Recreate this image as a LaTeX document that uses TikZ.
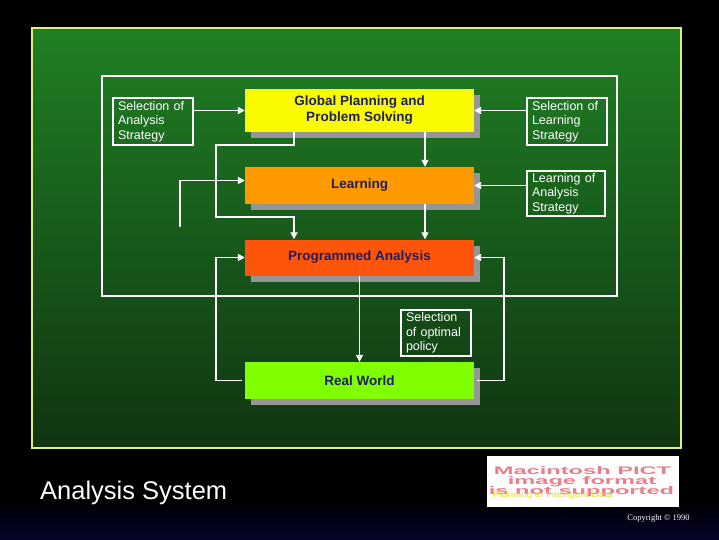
\documentclass[tikz,border=0pt]{standalone}
\usepackage{fontspec}
\setmainfont{Liberation Sans}
\newfontfamily\copyfont{Liberation Serif}
\usetikzlibrary{arrows.meta,positioning,shadows}

\definecolor{panelgreen}{RGB}{32,128,36}
\definecolor{panelmid}{RGB}{26,92,28}
\definecolor{paneldark}{RGB}{16,52,18}
\definecolor{panelrim}{RGB}{220,240,130}
\definecolor{boxtext}{RGB}{32,32,96}
\definecolor{shadowgray}{RGB}{150,150,150}
\definecolor{planyellow}{RGB}{250,250,0}
\definecolor{learnorange}{RGB}{255,153,0}
\definecolor{progred}{RGB}{255,85,10}
\definecolor{worldgreen}{RGB}{128,255,0}
\definecolor{pictpink}{RGB}{232,128,140}
\definecolor{pictyellow}{RGB}{230,220,40}
\definecolor{navyband}{RGB}{4,4,44}

\begin{document}
\begin{tikzpicture}[x=1pt,y=-1pt,
    mainbox/.style={minimum width=229pt,inner sep=0pt,text=boxtext,align=center,
        font=\fontsize{13.5}{16}\selectfont\bfseries,
        drop shadow={shadow xshift=6pt,shadow yshift=-6pt,opacity=1,fill=shadowgray}},
    sidebox/.style={draw=white,line width=1.8pt,text=white,align=left,
        inner xsep=5pt,inner ysep=0pt,font=\fontsize{12.5}{14.5}\selectfont},
    feed/.style={draw=white,line width=1.9pt,-{Triangle[length=7pt,width=7pt]}},
    thinfeed/.style={feed,line width=1.1pt},
    pictline/.style={text=pictpink,inner sep=0pt,font=\fontsize{11}{11}\selectfont\bfseries}]
    % slide background
    \fill[black] (0,0) rectangle (719,539);
    \shade[top color=black,bottom color=navyband] (0,500) rectangle (719,539);
    \shade[top color=panelgreen,middle color=panelmid,bottom color=paneldark] (32,28) rectangle (681,448);
    \draw[panelrim,line width=2.5pt] (32,28) rectangle (681,448);
    \draw[white,line width=1.9pt] (102,76) rectangle (617,296);

    % main blocks
    \node[mainbox,fill=planyellow,minimum height=43pt] (gps) at (359.5,110.5) {Global Planning and\\Problem Solving};
    \node[mainbox,fill=learnorange,minimum height=37pt] (lrn) at (359.5,185.5) {Learning};
    \node[mainbox,fill=progred,minimum height=36pt] (pa) at (359.5,257.5) {Programmed Analysis};
    \node[mainbox,fill=worldgreen,minimum height=37pt] (rw) at (359.5,380.5) {Real World};

    % side boxes
    \node[sidebox,minimum width=80pt,minimum height=47pt,text width=70pt] (sas) at (153,121.5) {Selection of\\Analysis\\Strategy};
    \node[sidebox,minimum width=80pt,minimum height=47pt,text width=70pt] (sls) at (567,121.5) {Selection of\\Learning\\Strategy};
    \node[sidebox,minimum width=78pt,minimum height=45pt,text width=68pt] (las) at (566,193.5) {Learning of\\Analysis\\Strategy};
    \node[sidebox,minimum width=70pt,minimum height=46pt,text width=60pt] (sop) at (436,333) {Selection\\of optimal\\policy};

    % connectors
    \coordinate (lfree) at (180,227);
    \draw[feed] (sas.east |- gps.west) -- (gps.west);
    \draw[feed] (sls.west |- gps.east) -- (gps.east);
    \draw[feed] (las.west |- lrn.east) -- (lrn.east);
    \draw[thinfeed] ([xshift=65.5pt]gps.south) -- ([xshift=65.5pt]lrn.north);
    \draw[thinfeed] ([xshift=65.5pt]lrn.south) -- ([xshift=65.5pt]pa.north);
    \draw[feed] ([xshift=-65.5pt]gps.south) -- ++(0,12.5) -| ++(-78,72) -| ([xshift=-65.5pt]pa.north);
    \draw[feed] (lfree) |- ([yshift=5pt]lrn.west);
    \draw[thinfeed] (pa.south) -- (rw.north);
    \draw[feed] ([xshift=-3pt]rw.west) -- ++(-26,0) |- (pa.west);
    \draw[feed] ([xshift=3pt]rw.east) -- ++(27,0) |- (pa.east);

    % caption and footer
    \node[anchor=base west,inner sep=0pt,text=white,font=\fontsize{25.5}{28}\selectfont] (title) at (40,499) {Analysis System};
    \node[fill=white,minimum width=192pt,minimum height=51pt,inner sep=0pt] (pict) at (583,481.5) {};
    \node[pictline] (pict1) at (582.5,470.5) {\scalebox{2.15}[1]{Macintosh PICT}};
    \node[pictline] (pict2) at (582,481.5) {\scalebox{2.15}[1]{image format}};
    \node[pictline] (pict3) at (581.5,491.5) {\scalebox{2.15}[1]{is not supported}};
    \node[text=pictyellow,inner sep=0pt,font=\fontsize{8}{8}\selectfont] (pict4) at (553,495) {\scalebox{1.25}[1]{Planning to Intelligent Data}};
    \node[text=white,inner sep=0pt,font=\copyfont\fontsize{8.5}{9}\selectfont] (copy) at (658.5,518) {Copyright © 1990};
\end{tikzpicture}
\end{document}
